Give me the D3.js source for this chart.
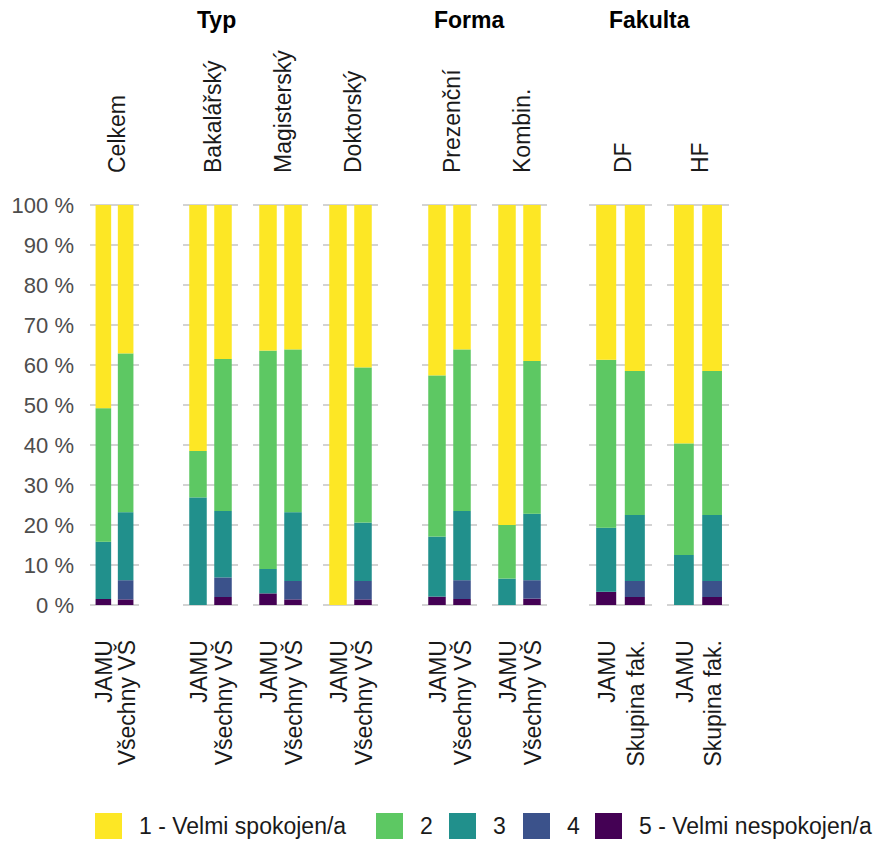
<!DOCTYPE html>
<html>
<head>
<meta charset="utf-8">
<script src="https://cdn.jsdelivr.net/npm/d3@7"></script>
<style>
  body { margin: 0; background: #fff; }
  svg { font-family: "Liberation Sans", Arial, sans-serif; }
</style>
</head>
<body>
<div id="chart"></div>
<script>
// bars left to right (group / panel / bar)
var groups = ["", "Typ", "Forma", "Fakulta"];
var panels = ["Celkem", "Bakalářský", "Magisterský", "Doktorský", "Prezenční", "Kombin.", "DF", "HF"];
var panelGroup = [0, 1, 1, 1, 2, 2, 3, 3];
var barLabels = [
  ["JAMU", "Všechny VŠ"], ["JAMU", "Všechny VŠ"], ["JAMU", "Všechny VŠ"], ["JAMU", "Všechny VŠ"],
  ["JAMU", "Všechny VŠ"], ["JAMU", "Všechny VŠ"], ["JAMU", "Skupina fak."], ["JAMU", "Skupina fak."]
];

// answer categories, legend order
var levels = ["1 - Velmi spokojen/a", "2", "3", "4", "5 - Velmi nespokojen/a"];
var colors = ["#FDE725", "#5DC863", "#21908C", "#3B528B", "#440154"];

// share in % per bar (16 bars, 2 per panel)
var v1 = [50.8, 37.1, 61.5, 38.5, 36.4, 36.1, 100, 40.6, 42.6, 36.1, 80.0, 39.0, 38.7, 41.5, 59.6, 41.5];
var v2 = [33.4, 39.7, 11.6, 38.0, 54.6, 40.7, 0, 38.8, 40.3, 40.4, 13.4, 38.2, 42.0, 36.0, 27.9, 36.0];
var v3 = [14.3, 17.0, 26.9, 16.6, 6.1, 17.2, 0, 14.6, 15.0, 17.3, 6.6, 16.6, 16.0, 16.5, 12.5, 16.5];
var v4 = [0, 4.8, 0, 4.9, 0, 4.6, 0, 4.6, 0, 4.7, 0, 4.6, 0, 4.0, 0, 4.0];
var v5 = [1.5, 1.4, 0, 2.0, 2.9, 1.4, 0, 1.4, 2.1, 1.5, 0, 1.6, 3.3, 2.0, 0, 2.0];

var yTicks = [0, 10, 20, 30, 40, 50, 60, 70, 80, 90, 100];

// layout (pixels)
var W = 881, H = 843;
var panelX = [[90, 139], [183, 238], [253, 308], [323, 378], [422, 477], [492, 547], [589, 652], [667, 729]];
var groupTitleX = [0, 197, 434, 609];
var legendX = [95, 376, 449, 523, 595];

var svg = d3.select("#chart").append("svg").attr("width", W).attr("height", H);

var y = d3.scaleLinear().domain([0, 100]).range([605, 205]);
var color = d3.scaleOrdinal().domain(levels).range(colors);

// table for d3.stack
var rows = v1.map(function (d, i) {
  var r = { idx: i };
  r[levels[0]] = v1[i]; r[levels[1]] = v2[i]; r[levels[2]] = v3[i];
  r[levels[3]] = v4[i]; r[levels[4]] = v5[i];
  return r;
});
// 5 at bottom, 1 on top
var stack = d3.stack().keys(levels.slice().reverse());
var series = stack(rows);

panels.forEach(function (name, p) {
  var g = svg.append("g");
  var x = d3.scaleBand().domain([0, 1]).range(panelX[p]).paddingInner(0.3).paddingOuter(0.25);

  // gridlines
  g.selectAll("line.grid").data(yTicks).enter().append("line")
    .attr("x1", panelX[p][0]).attr("x2", panelX[p][1])
    .attr("y1", function (d) { return y(d); }).attr("y2", function (d) { return y(d); })
    .attr("stroke", "#c4c4c4").attr("stroke-width", 1.6);

  series.forEach(function (s) {
    g.selectAll(null).data(s.slice(p * 2, p * 2 + 2)).enter().append("rect")
      .attr("x", function (d, i) { return x(i); })
      .attr("width", x.bandwidth())
      .attr("y", function (d) { return y(d[1]); })
      .attr("height", function (d) { return y(d[0]) - y(d[1]); })
      .attr("fill", color(s.key));
  });

  // strip label on top
  var cx = (panelX[p][0] + panelX[p][1]) / 2;
  g.append("text")
    .attr("transform", "translate(" + (cx + 10) + ",173) rotate(-90)")
    .attr("font-size", 23).attr("fill", "#1a1a1a")
    .text(name);

  // bar labels below
  barLabels[p].forEach(function (lab, i) {
    var bx = x(i) + x.bandwidth() / 2;
    g.append("text")
      .attr("transform", "translate(" + (bx + 9) + ",640) rotate(-90)")
      .attr("text-anchor", "end")
      .attr("font-size", 23).attr("fill", "#1a1a1a")
      .text(lab);
  });
});

// y axis only on first plot
svg.selectAll("text.ytick").data(yTicks).enter().append("text")
  .attr("x", 74).attr("y", function (d) { return y(d); })
  .attr("dy", "0.35em")
  .attr("text-anchor", "end")
  .attr("font-size", 22).attr("fill", "#4d4d4d")
  .text(function (d) { return d + " %"; });

// group titles
groups.forEach(function (t, i) {
  if (!t) return;
  svg.append("text").attr("x", groupTitleX[i]).attr("y", 28)
    .attr("font-size", 23).attr("font-weight", "bold").attr("fill", "#000")
    .text(t);
});

// legend
var leg = svg.selectAll("g.leg").data(levels).enter().append("g")
  .attr("transform", function (d, i) { return "translate(" + legendX[i] + ",813)"; });
leg.append("rect").attr("width", 27).attr("height", 26).attr("fill", function (d) { return color(d); });
leg.append("text").attr("x", 44).attr("y", 13).attr("dy", "0.35em")
  .attr("font-size", 23).attr("fill", "#1a1a1a")
  .text(function (d) { return d; });
</script>
</body>
</html>
